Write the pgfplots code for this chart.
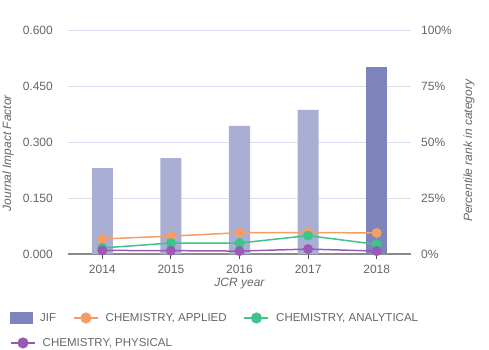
\documentclass[border=0pt]{standalone}
\usepackage{fontspec}
\setmainfont{Liberation Sans}
\usepackage{pgfplots}
\pgfplotsset{compat=1.18}
\definecolor{barl}{HTML}{A9AED4}
\definecolor{bard}{HTML}{7D84BC}
\definecolor{corange}{HTML}{F59D69}
\definecolor{cgreen}{HTML}{3DC48C}
\definecolor{cpurple}{HTML}{9B59B6}
\definecolor{txt}{HTML}{666666}
\definecolor{gridc}{HTML}{DDDDEE}
\definecolor{axc}{HTML}{8A8A8A}
\pgfplotsset{
  lineimg/.style={legend image code/.code={
    \draw[##1] (0pt,0pt) -- (24pt,0pt);
    \fill[##1] (12pt,0pt) circle (4.8pt);}},
  common/.style={
    scale only axis, width=343pt, height=224pt,
    at={(0pt,0pt)}, anchor=south west,
    xmin=-0.5, xmax=4.5,
    /pgf/number format/assume math mode=true,
    every tick label/.append style={font=\fontsize{12}{14}\selectfont, text=txt},
    legend style={draw=none, fill=none, inner sep=0pt, font=\fontsize{11.5}{14}\selectfont, text=txt,
      nodes={inner sep=0pt, anchor=west},
      /tikz/every odd column/.append style={column sep=7pt},
      /tikz/every even column/.append style={column sep=17pt}},
    legend columns=-1,
  },
}
\begin{document}
\begin{tikzpicture}
\path[use as bounding box] (-68pt,-96pt) rectangle (421pt,254pt);
\begin{axis}[common,
  ymin=0, ymax=0.6,
  ytick={0,0.15,0.3,0.45,0.6},
  /pgf/number format/fixed, /pgf/number format/fixed zerofill, /pgf/number format/precision=3,
  xtick={0,1,2,3,4}, xticklabels={2014,2015,2016,2017,2018},
  axis x line*=bottom, axis y line*=left,
  y axis line style={draw=none},
  x axis line style={draw=axc, line width=1.6pt},
  ytick style={draw=none},
  xtick style={draw=black!70, line width=1.2pt},
  tick align=outside, major tick length=5pt,
  ymajorgrids, major grid style={draw=gridc, line width=0.9pt},
  yticklabel style={inner sep=0pt, xshift=-10pt},
  xticklabel style={inner sep=0pt, yshift=-6pt},
  every axis y label/.style={at={(axis description cs:-0.175,0.45)}, rotate=90, anchor=center, font=\itshape\fontsize{12}{14}\selectfont, text=txt},
  every axis x label/.style={at={(axis description cs:0.5,-0.134)}, anchor=center, font=\itshape\fontsize{12}{14}\selectfont, text=txt},
  ylabel={Journal Impact Factor}, xlabel={JCR year},
  legend style={at={(axis description cs:-0.169,-0.2857)}, anchor=west},
]
\addplot[ybar, bar width=21pt, bar shift=0pt, fill=barl, draw=none, forget plot]
  coordinates {(0,0.230) (1,0.257) (2,0.343) (3,0.386)};
\addplot[ybar, bar width=21pt, bar shift=0pt, fill=bard, draw=none,
  legend image code/.code={\fill[bard] (0pt,-6pt) rectangle (23pt,6pt);}]
  coordinates {(4,0.501)};
\addlegendentry{JIF}
\addlegendimage{lineimg, draw=corange, fill=corange, line width=1.5pt}
\addlegendentry{CHEMISTRY, APPLIED}
\addlegendimage{lineimg, draw=cgreen, fill=cgreen, line width=1.5pt}
\addlegendentry{CHEMISTRY, ANALYTICAL}
\end{axis}
\begin{axis}[common,
  ymin=0, ymax=100,
  ytick={0,25,50,75,100},
  yticklabel={\pgfmathprintnumber{\tick}\%},
  axis y line*=right, axis x line=none,
  y axis line style={draw=none}, ytick style={draw=none},
  yticklabel style={inner sep=0pt, xshift=10pt, anchor=west},
  every axis y label/.style={at={(axis description cs:1.169,0.46)}, rotate=90, anchor=center, font=\itshape\fontsize{12}{14}\selectfont, text=txt},
  ylabel={Percentile rank in category},
  legend style={at={(axis description cs:-0.169,-0.397)}, anchor=west},
]
\addplot[corange, line width=1.5pt, mark=*, mark size=4.2pt, mark options={draw=none, fill=corange}, forget plot]
  coordinates {(0,6.7) (1,8.0) (2,9.5) (3,9.6) (4,9.4)};
\addplot[cgreen, line width=1.5pt, mark=*, mark size=4.2pt, mark options={draw=none, fill=cgreen}, forget plot]
  coordinates {(0,2.7) (1,4.9) (2,4.9) (3,8.2) (4,4.3)};
\addplot[cpurple, line width=1.5pt, mark=*, mark size=4.2pt, mark options={draw=none, fill=cpurple},
  legend image code/.code={\draw[cpurple, line width=1.5pt] (0pt,0pt) -- (24pt,0pt); \fill[cpurple] (12pt,0pt) circle (4.8pt);}]
  coordinates {(0,1.6) (1,1.5) (2,1.3) (3,2.2) (4,1.3)};
\addlegendentry{CHEMISTRY, PHYSICAL}
\end{axis}
\end{tikzpicture}
\end{document}
